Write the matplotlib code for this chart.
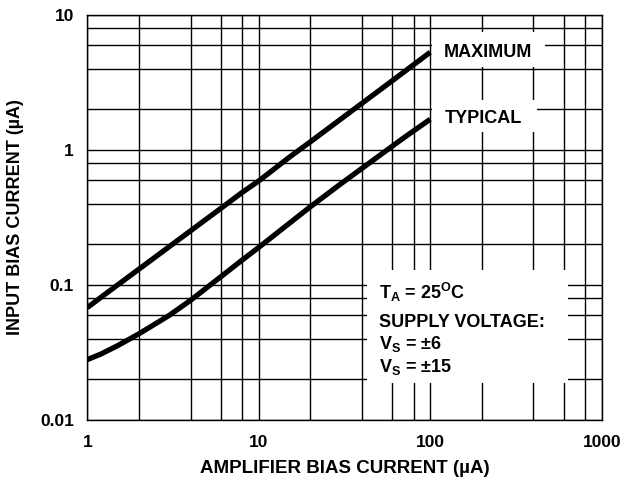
import numpy as np
import matplotlib
matplotlib.use("Agg")
import matplotlib.pyplot as plt
from matplotlib.patches import Rectangle
from matplotlib.ticker import FixedLocator, FixedFormatter, NullFormatter

plt.rcParams["font.family"] = ["Liberation Sans", "DejaVu Sans"]
plt.rcParams["font.weight"] = "bold"
plt.rcParams["axes.labelweight"] = "bold"
plt.rcParams["mathtext.fontset"] = "custom"
plt.rcParams["mathtext.rm"] = "Liberation Sans:bold"
plt.rcParams["mathtext.it"] = "Liberation Sans:bold"
plt.rcParams["mathtext.bf"] = "Liberation Sans:bold"

# ── data ────────────────────────────────────────────────────────────────────
amp_bias = [1, 1.2, 1.5, 2, 3, 4, 6, 8, 10, 15, 20, 30, 50, 70, 100]      # uA
input_max = [0.068, 0.081, 0.10, 0.131, 0.192, 0.252, 0.369, 0.485, 0.59,
             0.88, 1.15, 1.69, 2.74, 3.77, 5.3]                             # uA
input_typ = [0.028, 0.0308, 0.0355, 0.0435, 0.0595, 0.077, 0.115, 0.153,
             0.19, 0.285, 0.38, 0.56, 0.90, 1.23, 1.69]                     # uA

x_major = [1, 10, 100, 1000]
x_labels = ["1", "10", "100", "1000"]
x_grid = [2, 4, 6, 8, 20, 40, 60, 80, 200, 400, 600, 800]
y_major = [0.01, 0.1, 1, 10]
y_labels = ["0.01", "0.1", "1", "10"]
y_grid = [0.02, 0.04, 0.06, 0.08, 0.2, 0.4, 0.6, 0.8, 2, 4, 6, 8]

fig, ax = plt.subplots(figsize=(6.24, 4.82), dpi=100)
fig.subplots_adjust(left=0.1399, right=0.9643, top=0.9689, bottom=0.1286)

ax.set_xscale("log")
ax.set_yscale("log")
ax.set_xlim(1, 1000)
ax.set_ylim(0.01, 10)

ax.xaxis.set_major_locator(FixedLocator(x_major))
ax.xaxis.set_major_formatter(FixedFormatter(x_labels))
ax.xaxis.set_minor_locator(FixedLocator(x_grid))
ax.xaxis.set_minor_formatter(NullFormatter())
ax.yaxis.set_major_locator(FixedLocator(y_major))
ax.yaxis.set_major_formatter(FixedFormatter(y_labels))
ax.yaxis.set_minor_locator(FixedLocator(y_grid))
ax.yaxis.set_minor_formatter(NullFormatter())

ax.tick_params(which="both", length=0)
ax.tick_params(axis="x", pad=11, labelsize=12.5)
ax.tick_params(axis="y", pad=9.5, labelsize=12.5)
ax.grid(True, which="both", color="black", linewidth=1.0)
ax.set_axisbelow(True)
for sp in ax.spines.values():
    sp.set_linewidth(1.0)
    sp.set_color("black")

# curves
ax.plot(amp_bias, input_max, color="black", linewidth=3.8,
        solid_capstyle="butt", zorder=3)
ax.plot(amp_bias, input_typ, color="black", linewidth=3.8,
        solid_capstyle="butt", zorder=3)

# white label boxes hiding the grid
for (x0, y0, w, h) in [(0.6695, 0.8723, 0.2203, 0.0865),
                       (0.6695, 0.7119, 0.2053, 0.0782),
                       (0.5431, 0.0914, 0.3920, 0.2790)]:
    ax.add_patch(Rectangle((x0, y0), w, h, transform=ax.transAxes,
                           facecolor="white", edgecolor="none", zorder=2))

ax.text(0.6934, 0.8963, "MAXIMUM", transform=ax.transAxes,
        ha="left", va="baseline", fontsize=13, zorder=4)
ax.text(0.6954, 0.7333, "TYPICAL", transform=ax.transAxes,
        ha="left", va="baseline", fontsize=13, zorder=4)

notes = [r"$\mathrm{T_A}$ = 25$\mathrm{^O}$C",
         "SUPPLY VOLTAGE:",
         r"$\mathrm{V_S}$ = ±6",
         r"$\mathrm{V_S}$ = ±15"]
for txt, yy in zip(notes, [0.300, 0.2304, 0.1753, 0.1178]):
    ax.text(0.567, yy, txt, transform=ax.transAxes,
            ha="left", va="baseline", fontsize=13, zorder=4)

ax.set_xlabel("AMPLIFIER BIAS CURRENT (µA)", fontsize=13.5, labelpad=7)
ax.set_ylabel("INPUT BIAS CURRENT (µA)", fontsize=13, labelpad=12)

fig.savefig("out.png", dpi=100, facecolor="white")
